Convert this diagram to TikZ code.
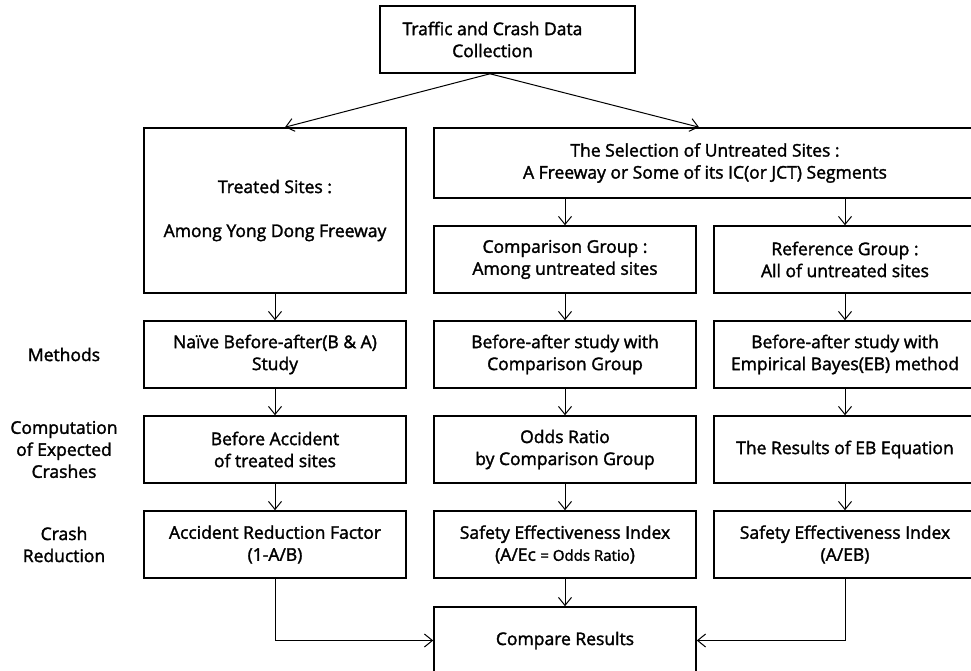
\documentclass[tikz,border=0pt]{standalone}
\usepackage{fontspec}
\setmainfont{Open Sans}[FakeBold=1.8]
\usetikzlibrary{arrows.meta}

\newcommand\ColA{275}
\newcommand\ColB{565}
\newcommand\ColC{845}
\newcommand\RowM{354.5}
\newcommand\RowE{449.5}
\newcommand\RowR{544.5}

\tikzset{
  stage/.style={draw, line width=1.6pt, minimum width=262pt, minimum height=67pt,
    inner sep=0pt, align=center, font=\fontsize{17.5}{22}\selectfont},
  flow/.style={line width=1pt, -{Straight Barb[length=8pt,width=13pt]}},
  rowlabel/.style={align=center, font=\fontsize{17.5}{22}\selectfont}
}

\begin{document}
\begin{tikzpicture}[x=1pt, y=-1pt]
  \useasboundingbox (0,0) rectangle (971,671);

  %% data collection and the two kinds of sites
  \node[stage, minimum width=255pt] (collect) at (507.5, 39.5)
    {Traffic and Crash Data\hspace*{30pt}\\Collection\hspace*{30pt}};
  \node[stage, minimum height=165pt] (treated) at (\ColA, 210.5) {Treated Sites :\\[22pt]Among Yong Dong Freeway};
  \node[stage, minimum width=542pt, minimum height=70pt] (select) at (705, 163) {The Selection of Untreated Sites :\\A Freeway or Some of its IC(or JCT) Segments};
  \node[stage] (compgrp) at (\ColB, 259.5) {Comparison Group :\\Among untreated sites};
  \node[stage] (refgrp) at (\ColC, 259.5) {Reference Group :\\All of untreated sites};

  %% methods
  \node[rowlabel] (lmethod) at (64, \RowM) {Methods};
  \node[stage] (naive) at (\ColA, \RowM) {Naïve Before-after(B \& A)\\Study};
  \node[stage] (bacomp) at (\ColB, \RowM) {Before-after study with\\Comparison Group};
  \node[stage] (baeb) at (\ColC, \RowM) {Before-after study with\\Empirical Bayes(EB) method};

  %% expected crashes
  \node[rowlabel] (lexpect) at (64, \RowE) {Computation\\of Expected\\Crashes};
  \node[stage] (before) at (\ColA, \RowE) {Before Accident\\of treated sites};
  \node[stage] (odds) at (\ColB, \RowE) {Odds Ratio\\by Comparison Group};
  \node[stage] (ebres) at (\ColC, \RowE) {The Results of EB Equation};

  %% crash reduction
  \node[rowlabel] (lreduce) at (64, \RowR) {Crash\\Reduction};
  \node[stage] (arf) at (\ColA, \RowR) {Accident Reduction Factor\\(1-A/B)};
  \node[stage] (seicomp) at (\ColB, \RowR) {Safety Effectiveness Index\\(A/Ec {\fontsize{15}{22}\selectfont= Odds Ratio})};
  \node[stage] (seieb) at (\ColC, \RowR) {Safety Effectiveness Index\\(A/EB)};

  \node[stage] (compare) at (\ColB, 640.5) {Compare Results};

  %% connectors
  \coordinate (fork) at ([xshift=-17.5pt]collect.south);
  \draw[flow] (fork) -- ([xshift=10pt]treated.north);
  \draw[flow] (fork) -- ([xshift=-6pt]select.north);
  \draw[flow] (select.south -| compgrp.north) -- (compgrp.north);
  \draw[flow] (select.south -| refgrp.north) -- (refgrp.north);
  \foreach \a/\b in {treated/naive, naive/before, before/arf,
                     compgrp/bacomp, bacomp/odds, odds/seicomp, seicomp/compare,
                     refgrp/baeb, baeb/ebres, ebres/seieb}
    \draw[flow] (\a) -- (\b);
  \draw[flow] (arf) |- (compare);
  \draw[flow] (seieb) |- (compare);

\end{tikzpicture}
\end{document}
